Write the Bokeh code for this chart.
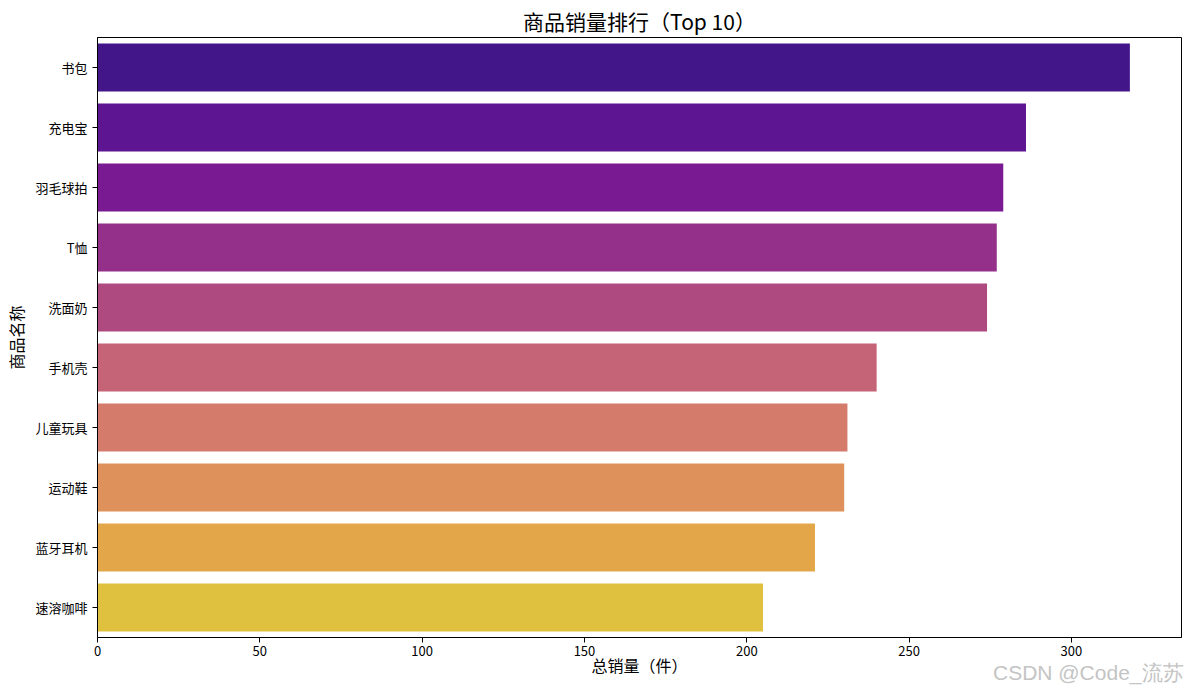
import colorsys
from bokeh.plotting import figure
from bokeh.models import FactorRange, Range1d, FixedTicker, Title, ColumnDataSource
from bokeh.palettes import Plasma256
from bokeh.embed import file_html
from bokeh.resources import INLINE

# data
products = ["书包", "充电宝", "羽毛球拍", "T恤", "洗面奶", "手机壳", "儿童玩具", "运动鞋", "蓝牙耳机", "速溶咖啡"]
sales = [318, 286, 279, 277, 274, 240, 231, 230, 221, 205]
x_ticks = [0, 50, 100, 150, 200, 250, 300]

title_text = "商品销量排行（Top 10）"
x_label = "总销量（件）"
y_label = "商品名称"
watermark = "CSDN @Code_流苏"

FONT = "Noto Sans CJK SC"

W, H = 1189, 690
ML, MT, MR, MB = 97, 37, 8, 53


def desat(hexc, prop=0.75):
    r, g, b = (int(hexc[i:i + 2], 16) / 255 for i in (1, 3, 5))
    h, l, s = colorsys.rgb_to_hls(r, g, b)
    r, g, b = colorsys.hls_to_rgb(h, l, s * prop)
    return "#%02x%02x%02x" % (round(r * 255), round(g * 255), round(b * 255))


n = len(products)
colors = [desat(Plasma256[min(255, int((i + 1) / (n + 1) * 256))]) for i in range(n)]

src = ColumnDataSource(dict(product=products, sales=sales, color=colors))

p = figure(
    width=W, height=H, title=title_text,
    y_range=FactorRange(factors=list(reversed(products))),
    x_range=Range1d(0, max(sales) * 1.05),
    output_backend="svg", toolbar_location=None,
    min_border_left=ML, min_border_right=MR, min_border_top=MT, min_border_bottom=MB,
)
p.hbar(y="product", right="sales", left=0, height=0.8, color="color", line_color=None, source=src)

p.title.text_font = FONT
p.title.text_font_size = "21px"
p.title.text_font_style = "normal"
p.title.text_color = "black"
p.title.align = "center"
p.title.standoff = 4

p.xgrid.visible = False
p.ygrid.visible = False
p.outline_line_color = "black"
p.outline_line_width = 1
p.background_fill_color = "white"
p.border_fill_color = "white"

p.xaxis.ticker = FixedTicker(ticks=x_ticks)
for ax in (p.xaxis[0], p.yaxis[0]):
    ax.major_label_text_font = FONT
    ax.major_label_text_font_size = "13px"
    ax.major_label_text_color = "black"
    ax.axis_line_color = "black"
    ax.major_tick_line_color = "black"
    ax.major_tick_out = 5
    ax.major_tick_in = 0
    ax.minor_tick_line_color = None
    ax.axis_label_text_font = FONT
    ax.axis_label_text_font_size = "16px"
    ax.axis_label_text_font_style = "normal"
    ax.axis_label_text_color = "black"
p.xaxis.major_label_standoff = 3
p.yaxis.major_label_standoff = 5
p.yaxis.axis_label = y_label
p.yaxis.axis_label_standoff = 4

# x-axis label and watermark share the row below the tick labels
p.add_layout(Title(text=x_label, align="center", vertical_align="top", standoff=-12,
                   text_font=FONT, text_font_size="16px", text_font_style="normal",
                   text_color="black"), "below")
p.add_layout(Title(text=watermark, align="right", vertical_align="top", standoff=-23, offset=-2,
                   text_font="Liberation Sans", text_font_size="21px", text_font_style="normal",
                   text_color="#c4c4c4"), "below")

open("out.html", "w").write(file_html(p, INLINE))
